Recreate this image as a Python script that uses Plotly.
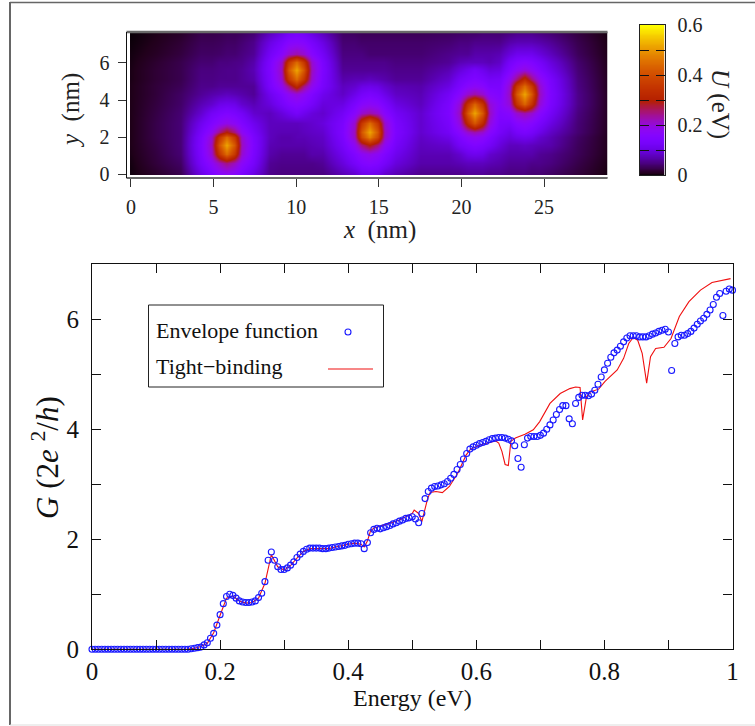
import math
import plotly.graph_objects as go

W, H = 755, 726

# --- Potential map U(x, y), eV ---
map_x_nm = [0, 1.5, 3,
            4.2, 4.9, 5.35, 5.8, 6.25, 6.7, 7.4,
            8.4,
            9.1, 9.55, 10, 10.45, 10.9, 11.6,
            12.8, 13.5, 13.95, 14.45, 14.9, 15.35, 16,
            17.5,
            19.2, 19.9, 20.35, 20.8, 21.25, 21.7, 22.3,
            22.9, 23.35, 23.8, 24.25, 24.7, 25.4,
            27, 28.85]
map_y_nm = [0, .6, 1.1, 1.57, 2.0, 2.3, 2.75, 3.3, 3.8, 4.3, 4.75, 5.15, 5.6, 6.05, 6.5, 7.1, 7.6]
map_u_ev = [
 [.005,.016,.03, .105,.14,.165,.175,.165,.14,.105, .055, .05,.05,.05,.05,.05,.05, .075,.09,.11,.115,.11,.09,.075, .055, .055,.055,.06,.06,.06,.055,.055, .05,.05,.05,.044,.044,.038, .022,.006],
 [.006,.022,.038, .13,.175,.22,.25,.22,.175,.13, .06, .055,.055,.055,.055,.055,.06, .10,.13,.15,.16,.15,.13,.10, .07, .07,.075,.08,.08,.08,.075,.07, .06,.06,.06,.055,.055,.05, .028,.008],
 [.008,.024,.044, .14,.21,.36,.45,.36,.21,.14, .07, .06,.06,.06,.06,.07,.07, .115,.15,.175,.19,.175,.15,.115, .075, .075,.09,.11,.115,.11,.09,.08, .07,.07,.07,.07,.06,.055, .033,.01],
 [.009,.026,.046, .145,.22,.42,.52,.42,.22,.145, .075, .07,.07,.07,.07,.075,.08, .13,.18,.25,.30,.25,.18,.13, .08, .09,.125,.14,.15,.14,.125,.10, .08,.08,.085,.08,.075,.07, .035,.011],
 [.009,.028,.046, .14,.21,.36,.45,.36,.21,.14, .08, .07,.07,.075,.075,.08,.085, .14,.215,.39,.48,.39,.215,.14, .085, .11,.145,.17,.18,.17,.145,.115, .10,.11,.115,.11,.09,.075, .038,.011],
 [.009,.028,.046, .13,.18,.25,.30,.25,.18,.13, .08, .075,.075,.075,.08,.085,.09, .145,.22,.42,.52,.42,.22,.145, .09, .125,.165,.21,.23,.21,.165,.13, .11,.13,.14,.13,.11,.085, .044,.012],
 [.009,.028,.046, .115,.15,.175,.19,.175,.15,.115, .08, .08,.08,.08,.085,.09,.10, .14,.21,.36,.45,.36,.21,.14, .09, .135,.20,.33,.42,.33,.20,.14, .135,.16,.17,.16,.135,.105, .046,.013],
 [.009,.026,.044, .09,.125,.14,.15,.14,.125,.09, .08, .10,.115,.13,.115,.10,.09, .125,.165,.21,.23,.21,.165,.125, .09, .145,.22,.42,.52,.42,.22,.15, .165,.21,.23,.21,.165,.125, .05,.013],
 [.009,.024,.04, .075,.09,.11,.115,.11,.09,.075, .10, .13,.15,.16,.15,.13,.10, .105,.14,.165,.175,.165,.14,.105, .08, .14,.205,.35,.44,.35,.205,.165, .205,.35,.44,.35,.205,.14, .055,.013],
 [.009,.022,.038, .06,.07,.075,.08,.075,.07,.06, .115, .15,.18,.20,.18,.15,.115, .085,.11,.13,.14,.13,.11,.085, .075, .125,.165,.21,.23,.21,.165,.15, .22,.42,.52,.42,.22,.145, .055,.013],
 [.009,.022,.033, .055,.055,.06,.06,.06,.06,.06, .135, .185,.25,.33,.25,.185,.135, .08,.09,.105,.11,.105,.09,.075, .07, .105,.14,.165,.175,.165,.14,.14, .21,.36,.45,.36,.21,.14, .052,.012],
 [.008,.02,.03, .052,.052,.055,.055,.055,.06,.07, .14, .21,.36,.45,.36,.21,.14, .07,.075,.075,.08,.075,.07,.06, .06, .09,.125,.14,.15,.14,.125,.13, .185,.25,.33,.25,.185,.135, .05,.012],
 [.008,.02,.03, .05,.05,.053,.055,.055,.06,.075, .145, .22,.42,.52,.42,.22,.145, .06,.06,.06,.06,.06,.06,.055, .055, .075,.10,.115,.13,.115,.10,.105, .15,.18,.20,.18,.15,.115, .046,.011],
 [.007,.018,.029, .044,.044,.05,.05,.053,.055,.07, .14, .21,.36,.45,.36,.21,.14, .055,.055,.055,.055,.055,.055,.05, .05, .06,.075,.08,.08,.08,.075,.085, .13,.15,.16,.15,.13,.10, .042,.01],
 [.006,.014,.024, .038,.038,.04,.044,.044,.05,.06, .125, .165,.21,.23,.21,.165,.125, .05,.05,.05,.044,.044,.044,.044, .044, .055,.06,.06,.07,.07,.07,.075, .10,.115,.115,.115,.10,.08, .035,.009],
 [.004,.011,.02, .033,.033,.035,.038,.038,.044,.055, .105, .135,.16,.165,.16,.135,.105, .044,.044,.04,.04,.04,.04,.04, .04, .044,.05,.05,.055,.055,.055,.055, .07,.075,.075,.075,.07,.06, .03,.008],
 [.003,.009,.015, .028,.028,.03,.033,.033,.036,.044, .08, .105,.125,.135,.125,.105,.08, .038,.036,.033,.033,.033,.033,.033, .033, .036,.038,.04,.04,.044,.044,.044, .05,.055,.055,.055,.05,.044, .024,.006],
]

# --- Conductance: envelope function (one value per 0.005 eV, 0 to 1 eV) ---
envelope_g = [
 0,0,0,0,0,0,0,0,0,0,0,0,0,0,0,0,0,0,0,0,
 0,0,0,0,0,0,0,0,0,0,.002,.01,.02,.03,.04,.08,.12,.2,.29,.44,
 .63,.83,.96,1.0,.98,.93,.88,.86,.85,.85,.86,.88,.94,1.02,1.23,1.62,1.77,1.62,1.5,1.45,
 1.45,1.48,1.53,1.59,1.67,1.73,1.78,1.82,1.84,1.84,1.84,1.84,1.83,1.83,1.84,1.85,1.86,1.87,1.88,1.89,
 1.91,1.92,1.93,1.93,1.92,1.83,1.94,2.12,2.18,2.2,2.19,2.21,2.23,2.25,2.28,2.3,2.33,2.35,2.38,2.39,
 2.41,2.37,2.3,2.47,2.74,2.87,2.93,2.96,2.97,2.99,3.01,3.05,3.11,3.18,3.27,3.36,3.46,3.56,3.64,3.68,
 3.71,3.74,3.76,3.78,3.81,3.83,3.84,3.85,3.85,3.84,3.82,3.79,3.7,3.47,3.31,3.72,3.84,3.87,3.87,3.87,
 3.89,3.93,4.0,4.08,4.17,4.27,4.36,4.43,4.43,4.19,4.1,4.47,4.58,4.62,4.62,4.61,4.64,4.71,4.82,4.95,
 5.08,5.2,5.31,5.39,5.44,5.51,5.59,5.66,5.7,5.7,5.7,5.68,5.68,5.68,5.7,5.73,5.75,5.78,5.8,5.82,
 5.77,5.07,5.56,5.68,5.71,5.71,5.74,5.78,5.84,5.91,5.97,6.02,6.09,6.17,6.27,6.4,6.47,6.07,6.51,6.55,
 6.53,
]
envelope_e = [i / 200 for i in range(len(envelope_g))]

# --- Conductance: tight-binding ---
tight_e = [0, .05, .10, .14, .15, .16, .17, .18, .19, .20, .21, .22, .23, .24, .25, .26, .27, .28,
           .29, .30, .31, .32, .33, .34, .35, .36, .37, .38, .39, .40, .41, .42, .425, .43, .435,
           .44, .45, .46, .47, .48, .49, .50, .503, .51, .515, .524, .528, .537, .547, .558, .571,
           .584, .591, .607, .63, .635, .64, .645, .65, .654, .661, .676, .689, .699, .715, .731,
           .746, .755, .762, .766, .772, .778, .791, .801, .82, .83, .838, .845, .852, .859, .866,
           .872, .88, .893, .904, .917, .932, .95, .968, .997]
tight_g = [0, 0, 0, 0, .005, .02, .05, .11, .3, .62, .93, .97, .88, .84, .85, .93, 1.2, 1.72,
           1.5, 1.44, 1.52, 1.66, 1.78, 1.83, 1.83, 1.82, 1.83, 1.86, 1.89, 1.91, 1.93, 1.91, 1.86, 1.97, 2.16,
           2.2, 2.24, 2.27, 2.31, 2.35, 2.41, 2.47, 2.53, 2.47, 2.32, 2.74, 2.85, 2.87, 2.85, 2.96, 3.2,
           3.53, 3.64, 3.72, 3.79, 3.75, 3.6, 3.36, 3.34, 3.78, 3.84, 3.91, 3.99, 4.14, 4.47, 4.65,
           4.74, 4.77, 4.76, 4.17, 4.59, 4.68, 4.73, 4.87, 5.08, 5.29, 5.56, 5.67, 5.62, 5.38, 4.84,
           5.32, 5.47, 5.49, 5.65, 6.05, 6.32, 6.53, 6.67, 6.74]

legend_labels = ["Envelope function", "Tight\u2212binding"]
main_x_ticks = [0, .2, .4, .6, .8, 1]
main_x_text = ["0", "0.2", "0.4", "0.6", "0.8", "1"]
main_x_minor = [.1, .3, .5, .7, .9]
main_y_ticks = [0, 2, 4, 6]
main_y_minor = [1, 3, 5, 7]
cb_levels = [i / 100 for i in range(61)]
cb_ticks = [0, .2, .4, .6]
cb_text = ["0", "0.2", "0.4", "0.6"]
cb_minor = [.1, .3, .5]

FONT = "Liberation Serif"
BLUE = "#1a1aff"
RED = "#f01010"
GRAY = "#6a6a6a"


def px(x):
    return x / W


def py(y):
    return 1 - y / H


# gnuplot default pm3d palette (7,5,15)
def palette(n=60):
    out = []
    for i in range(n + 1):
        t = i / n
        r = math.sqrt(t)
        g = t ** 3
        b = max(0.0, math.sin(2 * math.pi * t))
        out.append([t, f"rgb({round(255*r)},{round(255*g)},{round(255*b)})"])
    return out


fig = go.Figure()

fig.add_trace(go.Heatmap(
    x=map_x_nm, y=map_y_nm, z=map_u_ev, zmin=0, zmax=.6, zsmooth="best",
    colorscale=palette(), showscale=False, xaxis="x", yaxis="y", hoverinfo="skip"))
fig.add_trace(go.Heatmap(
    x=[0, 1], y=cb_levels, z=[[v, v] for v in cb_levels], zmin=0, zmax=.6, zsmooth="best",
    colorscale=palette(), showscale=False, xaxis="x3", yaxis="y3", hoverinfo="skip"))
fig.add_trace(go.Scatter(
    x=tight_e, y=tight_g, mode="lines", line=dict(color=RED, width=1.1),
    xaxis="x2", yaxis="y2", showlegend=False, hoverinfo="skip"))
fig.add_trace(go.Scatter(
    x=envelope_e, y=envelope_g, mode="markers",
    marker=dict(symbol="circle-open", size=6, color=BLUE, line=dict(width=1.1, color=BLUE)),
    xaxis="x2", yaxis="y2", showlegend=False, hoverinfo="skip", cliponaxis=False))

tick_f = dict(family=FONT, size=20, color="#222")
main_f = dict(family=FONT, size=25, color="#111")


def paper_line(x0, y0, x1, y1, color, width, layer="above"):
    return dict(type="line", xref="paper", yref="paper", x0=px(x0), x1=px(x1), y0=py(y0), y1=py(y1),
                line=dict(color=color, width=width), layer=layer)


shapes = [
    paper_line(10, 2, 10, 725, "#666", 2),
    paper_line(10, 2.5, 755, 2.5, "#666", 1.5),
    paper_line(10, 725, 755, 725, "#ddd", 1),
    # white gaps between the map and its frame
    dict(type="rect", xref="paper", yref="paper", x0=px(127), x1=px(130), y0=py(177), y1=py(33),
         line=dict(width=0), fillcolor="white", layer="above"),
    dict(type="rect", xref="paper", yref="paper", x0=px(127), x1=px(608), y0=py(177), y1=py(175),
         line=dict(width=0), fillcolor="white", layer="above"),
    paper_line(126.5, 32, 607.5, 32, GRAY, 2.5),
    paper_line(126.5, 178, 607.5, 178, GRAY, 2),
    paper_line(126.5, 32, 126.5, 178, "#111", 1),
    dict(type="rect", xref="paper", yref="paper", x0=px(148.5), x1=px(383.5), y0=py(305), y1=py(387),
         line=dict(color="#222", width=1), fillcolor="white", layer="above"),
    dict(type="circle", xref="paper", yref="paper", x0=px(345), x1=px(351), y0=py(329), y1=py(335),
         line=dict(color=BLUE, width=1.1), layer="above"),
    paper_line(328, 369, 373, 369, RED, 1.1),
]


def label(text, x, y, size, angle=0, anchor="center", color="#111"):
    return dict(text=text, x=px(x), y=py(y), xref="paper", yref="paper", showarrow=False, textangle=angle,
                font=dict(family=FONT, size=size, color=color), xanchor=anchor, yanchor="middle")


annotations = [
    label("<i>x</i>  (nm)", 379, 230, 25, color="#222"),
    label("<i>y</i>  (nm)", 71, 111, 25, angle=-90, color="#222"),
    label("<i>U</i> (eV)", 720, 104, 25, angle=90, color="#222"),
    label("Energy (eV)", 412, 698, 24),
    label("<i>G</i> (2<i>e</i> <sup>2</sup>/<i>h</i>)", 45, 458, 31, angle=-90),
    label(legend_labels[0], 154, 330, 22, anchor="left"),
    label(legend_labels[1], 154, 366, 22, anchor="left"),
]

fig.update_layout(
    width=W, height=H, autosize=False, margin=dict(l=0, r=0, t=0, b=0, pad=0, autoexpand=False),
    paper_bgcolor="white", plot_bgcolor="white", showlegend=False,
    shapes=shapes, annotations=annotations,
    xaxis=dict(domain=[px(126.5), px(607.5)], range=[-.272, 28.84], anchor="y",
               tickvals=[0, 5, 10, 15, 20, 25], ticks="outside", ticklen=8, tickwidth=1, tickcolor="#333",
               showgrid=False, zeroline=False, showline=False, tickfont=tick_f, ticklabelstandoff=3),
    yaxis=dict(domain=[py(178), py(32)], range=[-.19, 7.66], anchor="x",
               tickvals=[0, 2, 4, 6], ticks="outside", ticklen=8, tickwidth=1, tickcolor="#333",
               showgrid=False, zeroline=False, showline=False, tickfont=tick_f, ticklabelstandoff=4),
    xaxis2=dict(domain=[px(92), px(732.5)], range=[0, 1], anchor="y2",
                tickmode="array", tickvals=main_x_ticks, ticktext=main_x_text, ticks="inside", ticklen=9,
                tickwidth=1, tickcolor="#111", mirror="ticks", showline=True, linecolor="#111", linewidth=1.2,
                minor=dict(tickmode="array", tickvals=main_x_minor, ticks="inside", ticklen=9, tickwidth=1,
                           tickcolor="#111", showgrid=False),
                showgrid=False, zeroline=False, tickfont=main_f, ticklabelstandoff=0),
    yaxis2=dict(domain=[py(649.3), py(264.3)], range=[0, 7], anchor="x2",
                tickmode="array", tickvals=main_y_ticks, ticks="inside", ticklen=9,
                tickwidth=1, tickcolor="#111", mirror="ticks", showline=True, linecolor="#111", linewidth=1.2,
                minor=dict(tickmode="array", tickvals=main_y_minor, ticks="inside", ticklen=9, tickwidth=1,
                           tickcolor="#111", showgrid=False),
                showgrid=False, zeroline=False, tickfont=main_f, ticklabelstandoff=7),
    xaxis3=dict(domain=[px(639.5), px(664.5)], range=[0, 1], anchor="y3", showticklabels=False, ticks="",
                showline=True, linecolor="#222", linewidth=1, mirror=True, showgrid=False, zeroline=False),
    yaxis3=dict(domain=[py(175), py(25)], range=[0, .6], anchor="x3", side="right",
                tickmode="array", tickvals=cb_ticks, ticktext=cb_text, ticks="inside", ticklen=9,
                tickwidth=1, tickcolor="#111", mirror="ticks", showline=True, linecolor="#222", linewidth=1,
                minor=dict(tickmode="array", tickvals=cb_minor, ticks="inside", ticklen=9, tickwidth=1,
                           tickcolor="#111", showgrid=False),
                showgrid=False, zeroline=False, tickfont=tick_f, ticklabelstandoff=8),
)

fig.write_html("out.html", config={"displayModeBar": False},
               post_script="document.body.style.margin='0';document.body.style.overflow='hidden';")
